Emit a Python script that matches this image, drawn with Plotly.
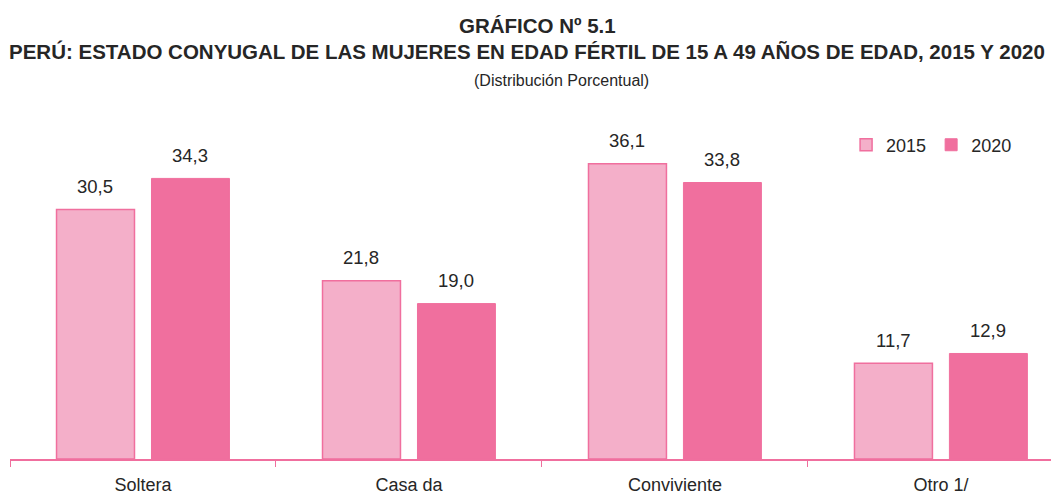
"""
estado conyugal, mujeres en edad fertil 2015 y 2020
"""
import plotly.graph_objects as go

categorias = ['Soltera', 'Casa da', 'Conviviente', 'Otro 1/']
anios = ['2015', '2020']
valores_2015 = [30.5, 21.8, 36.1, 11.7]
valores_2020 = [34.3, 19.0, 33.8, 12.9]

ROSA_CLARO = '#F4AFC9'
ROSA = '#F06F9E'
TEXTO = '#262626'
FUENTE = 'Liberation Sans, Arial, sans-serif'

fig = go.Figure()
fig.add_trace(go.Bar(
    x=categorias, y=valores_2015, name=anios[0],
    marker=dict(color=ROSA_CLARO, line=dict(color=ROSA, width=1.5)),
))
fig.add_trace(go.Bar(
    x=categorias, y=valores_2020, name=anios[1],
    marker=dict(color=ROSA, line=dict(color=ROSA, width=1)),
))

# etiquetas de valor con coma decimal
for serie, desplaz in ((valores_2015, -47.5), (valores_2020, 47.5)):
    for cat, v in zip(categorias, serie):
        fig.add_annotation(
            x=cat, y=v, xref='x', yref='y', xshift=desplaz, yshift=23,
            text=f'{v:.1f}'.replace('.', ','), showarrow=False,
            font=dict(family=FUENTE, size=18.5, color=TEXTO),
        )

# titulo en tres lineas
lineas = [
    ('<b>GRÁFICO Nº 5.1</b>', 0.4995, 1.299, 20.5),
    ('<b>PERÚ: ESTADO CONYUGAL DE LAS MUJERES EN EDAD FÉRTIL DE 15 A 49 AÑOS DE EDAD, 2015 Y 2020</b>',
     0.4891, 1.2186, 20.5),
    ('(Distribución Porcentual)', 0.5213, 1.1347, 16),
]
for texto, px, py, tam in lineas:
    fig.add_annotation(
        x=px, y=py, xref='paper', yref='paper', text=texto, showarrow=False,
        xanchor='center', yanchor='middle',
        font=dict(family=FUENTE, size=tam, color=TEXTO),
    )

fig.update_layout(
    width=1059, height=494,
    paper_bgcolor='white', plot_bgcolor='white',
    margin=dict(l=2, r=0, t=117, b=43),
    barmode='group', bargap=0.286, bargroupgap=0.179,
    font=dict(family=FUENTE, size=18, color=TEXTO),
    legend=dict(orientation='h', x=0.791, y=0.94, xanchor='left', yanchor='middle',
                font=dict(family=FUENTE, size=18, color=TEXTO),
                itemwidth=30, traceorder='normal'),
    showlegend=True,
)
fig.update_xaxes(
    range=[-0.5, 3.474], showline=True, linecolor=ROSA, linewidth=1.5,
    ticks='outside', tickson='boundaries', tickcolor=ROSA, ticklen=6,
    ticklabelstandoff=9,
    tickfont=dict(family=FUENTE, size=18, color=TEXTO),
    showgrid=False,
)
fig.update_yaxes(range=[0, 40.83], visible=False, showgrid=False)

fig.write_html('out.html')
